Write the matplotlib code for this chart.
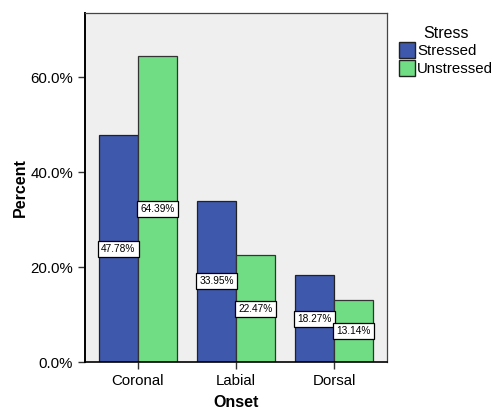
import numpy as np
import matplotlib
matplotlib.use('Agg')
import matplotlib.pyplot as plt
from matplotlib.patches import Patch

categories = ['Coronal', 'Labial', 'Dorsal']
stressed = [47.78, 33.95, 18.27]
unstressed = [64.39, 22.47, 13.14]
series_names = ['Stressed', 'Unstressed']
yticks = [0, 20, 40, 60]

plt.rcParams['font.family'] = ['Liberation Sans', 'DejaVu Sans']

blue = '#3E58AC'
green = '#70DC84'

fig = plt.figure(figsize=(4.98, 4.12), dpi=100)
ax = fig.add_axes([85/498, 1-362/412, (387-85)/498, (362-13)/412])
ax.set_facecolor('#EFEFEF')

x = np.arange(len(categories))
w = 0.4
b1 = ax.bar(x - w/2, stressed, w, color=blue, edgecolor='#222222', linewidth=0.9, zorder=2)
b2 = ax.bar(x + w/2, unstressed, w, color=green, edgecolor='#333333', linewidth=0.9, zorder=2)

# подписи в середине столбцов
for bars, vals in [(b1, stressed), (b2, unstressed)]:
    for bar, v in zip(bars, vals):
        ax.text(bar.get_x() + bar.get_width()/2, v/2, '%.2f%%' % v,
                ha='center', va='center', fontsize=7.3, zorder=3,
                bbox=dict(boxstyle='square,pad=0.3', fc='white', ec='black', lw=0.9))

ax.set_xlim(-0.54, 2.54)
ax.set_ylim(0, 73.5)
ax.set_xticks(x)
ax.set_xticklabels(categories, fontsize=10.8)
ax.set_yticks(yticks)
ax.set_yticklabels(['%.1f%%' % t for t in yticks], fontsize=10.8)
ax.tick_params(direction='out', length=5, width=1, color='#333333')

for s in ['top', 'right']:
    ax.spines[s].set_color('#444444')
    ax.spines[s].set_linewidth(0.9)
ax.spines['left'].set_linewidth(1.4)
ax.spines['bottom'].set_linewidth(1.2)

ax.set_xlabel('Onset', fontsize=11.5, fontweight='bold', labelpad=5)
ax.set_ylabel('Percent', fontsize=11.5, fontweight='bold', labelpad=2)

handles = [Patch(facecolor=blue, edgecolor='#222222'), Patch(facecolor=green, edgecolor='#222222')]
leg = fig.legend(handles, series_names, title='Stress', loc='upper left',
                 bbox_to_anchor=(388/498, 1-15/412), frameon=False, fontsize=10.8,
                 title_fontsize=11.5, handlelength=1.1, handleheight=1.3,
                 handletextpad=0.15, labelspacing=0.1, borderpad=0.2)

fig.savefig('out.png', dpi=100)
